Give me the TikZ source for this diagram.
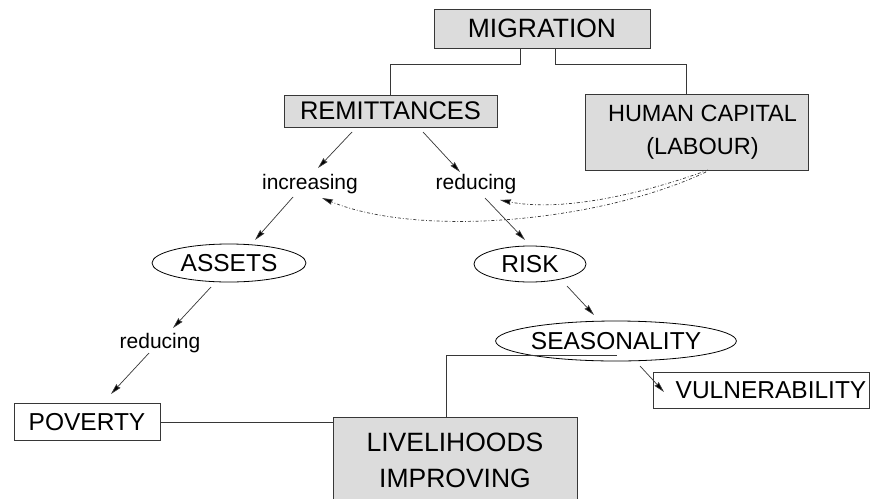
\documentclass[tikz,border=0pt]{standalone}
\usepackage{fontspec}
\setmainfont{Liberation Sans}
\usetikzlibrary{shapes.geometric,arrows.meta,calc}
\definecolor{boxgray}{RGB}{220,220,220}
\definecolor{linegray}{RGB}{55,55,55}

\begin{document}
\begin{tikzpicture}[x=1pt,y=-1pt,
  box/.style={draw=linegray, line width=0.9pt, inner sep=0pt,
              font=\fontsize{24.5}{29}\selectfont},
  greybox/.style={box, fill=boxgray},
  oval/.style={ellipse, draw=black, line width=0.8pt, inner sep=0pt,
               font=\fontsize{24.5}{29}\selectfont},
  verb/.style={inner sep=0pt, font=\fontsize{21}{25}\selectfont},
  link/.style={draw=linegray, line width=0.8pt},
  arr/.style={draw=linegray, line width=0.7pt,
              -{Stealth[length=11pt,width=5.5pt,inset=1pt,fill=black]}},
  dashdotted/.style={draw=linegray, line width=0.7pt,
              dash pattern=on 3pt off 2pt on 0.8pt off 2pt,
              -{Stealth[length=11pt,width=5.5pt,inset=1pt,fill=black]}}]

  % page frame
  \fill[white] (0,0) rectangle (874,498);
  \useasboundingbox (0,0) rectangle (874,498);

  % boxes
  \node[greybox, minimum width=216pt, minimum height=39pt,
        font=\fontsize{26.5}{31}\selectfont] (mig) at (542,28.5) {MIGRATION};
  \node[greybox, minimum width=213pt, minimum height=32pt,
        font=\fontsize{25.5}{30}\selectfont] (rem) at (390.5,111) {REMITTANCES};
  \node[greybox, minimum width=223pt, minimum height=76pt, align=center,
        font=\fontsize{23.5}{33}\selectfont] (hum) at (696.5,132)
        {\hspace*{12pt}HUMAN CAPITAL\\\hspace*{12pt}(LABOUR)};
  \node[box, fill=white, minimum width=146pt, minimum height=37pt] (pov) at (87,422) {POVERTY};
  \node[box, fill=white, minimum width=216pt, minimum height=36pt] (vul) at (761,390)
        {\hspace*{20pt}VULNERABILITY};
  \node[greybox, minimum width=244pt, minimum height=86pt, align=center,
        font=\fontsize{26.5}{36}\selectfont] (liv) at (455,460)
        {LIVELIHOODS\\IMPROVING};

  % ovals
  \node[oval, minimum width=154pt, minimum height=38pt] (ass) at (229,263) {ASSETS};
  \node[oval, minimum width=112pt, minimum height=36pt] (risk) at (530,264) {RISK};
  \node[oval, minimum width=240pt, minimum height=40pt] (sea) at (616,341) {SEASONALITY};

  % verbs
  \node[verb] (inc) at (310,184) {increasing};
  \node[verb] (red) at (476,184) {reducing};
  \node[verb] (redb) at (160,343) {reducing};

  % tree links
  \draw[link] ($(mig.south)+(-22,0)$) -- ++(0,16) -| (rem.north);
  \draw[link] ($(mig.south)+(13,0)$) -- ++(0,16) -| ($(hum.north)+(-10,0)$);
  \draw[link] (pov.east) -- (pov.east -| liv.west);
  \draw[link] ($(liv.north)+(-9,0)$) |- ($(sea.center)+(1,14)$);

  % arrows
  \draw[arr] ($(rem.center)+(-38.5,21)$) -- ($(inc.center)+(8,-16)$);
  \draw[arr] ($(rem.center)+(32.5,21)$) -- ($(red.center)+(-16,-12)$);
  \draw[arr] ($(inc.center)+(-17,13)$) -- ($(ass.center)+(26,-23)$);
  \draw[arr] ($(red.center)+(9,14)$) -- ($(risk.center)+(-5,-24)$);
  \draw[arr] ($(ass.center)+(-18,24)$) -- ($(redb.center)+(13,-15)$);
  \draw[arr] ($(redb.center)+(-11,10)$) -- ($(pov.center)+(24,-28)$);
  \draw[arr] ($(risk.center)+(37,22)$) -- ($(sea.center)+(-22,-26)$);
  \draw[arr] ($(sea.center)+(24,25)$) -- ($(vul.center)+(-97,2)$);

  % dash-dotted links from human capital
  \draw[dashdotted] ($(hum.center)+(11.5,38)$) .. controls (640,195) and (560,212) ..
        ($(red.center)+(24,16)$);
  \draw[dashdotted] ($(hum.center)+(9.5,40)$) .. controls (600,222) and (420,238) ..
        ($(inc.center)+(12,14)$);
\end{tikzpicture}
\end{document}
